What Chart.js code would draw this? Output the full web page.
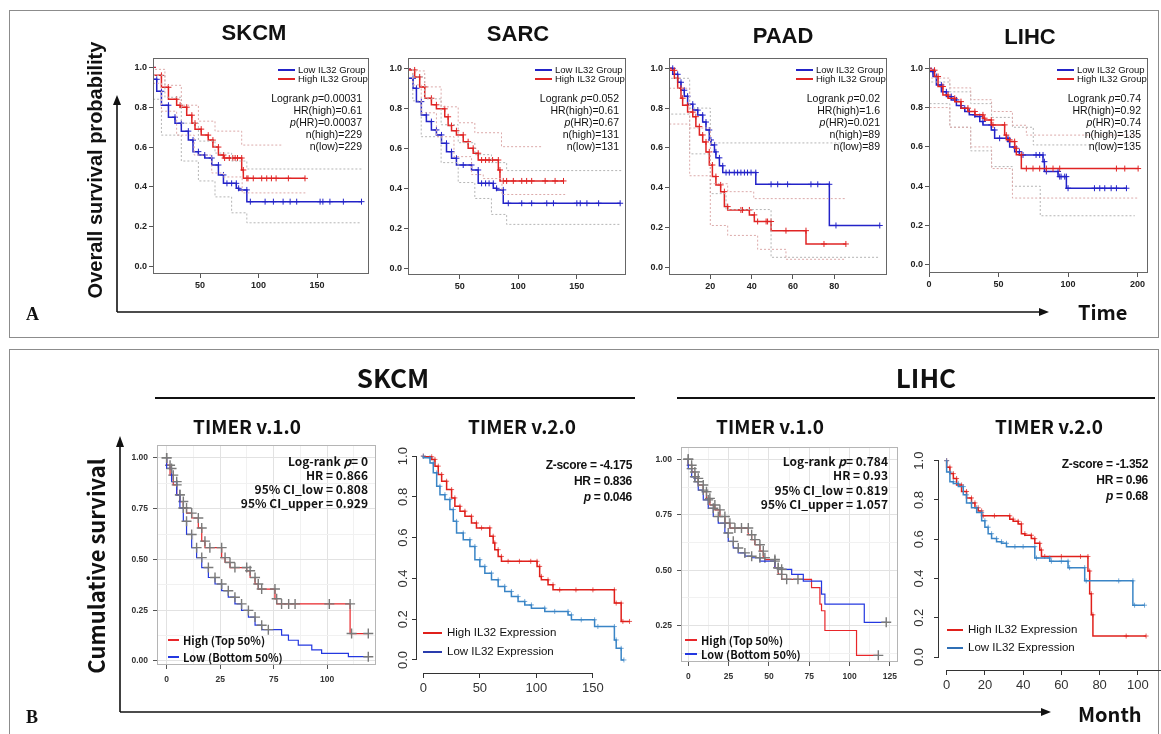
<!DOCTYPE html>
<html>
<head>
<meta charset="utf-8">
<script src="https://cdn.jsdelivr.net/npm/chart.js@4.4.0/dist/chart.umd.min.js"></script>
<style>
html, body { margin: 0; padding: 0; background: #fff; }
body { width: 1161px; height: 734px; overflow: hidden; position: relative; font-family: "Liberation Sans", Arial, sans-serif; }
canvas { position: absolute; z-index: 1; }
.t { position: absolute; white-space: nowrap; line-height: 1; z-index: 3; color: #111; }
.box { position: absolute; border: 1.5px solid #8c8c8c; }
.ln { position: absolute; height: 2px; z-index: 3; }
svg { position: absolute; left: 0; top: 0; z-index: 2; }
</style>
</head>
<body>
<div class="box" style="left:9px;top:10px;width:1148px;height:326px"></div>
<div class="box" style="left:9px;top:349px;width:1148px;height:420px"></div>
<svg width="1161" height="734">
  <g stroke="#111" stroke-width="1.6" fill="none">
    <line x1="117" y1="312" x2="117" y2="104"/>
    <line x1="117" y1="312" x2="1040" y2="312"/>
    <line x1="120" y1="712" x2="120" y2="446"/>
    <line x1="120" y1="712" x2="1042" y2="712"/>
  </g>
  <g stroke="#111" stroke-width="2">
    <line x1="155" y1="398" x2="635" y2="398"/>
    <line x1="677" y1="398" x2="1155" y2="398"/>
  </g>
  <g fill="#111">
    <polygon points="117,95 113,105 121,105"/>
    <polygon points="1049,312 1039,308 1039,316"/>
    <polygon points="120,436 116,447 124,447"/>
    <polygon points="1051,712 1041,708 1041,716"/>
  </g>
</svg>
<script>
// ---- Panel A (GEPIA): time / survival for each group ----
const aSkcmHighT = [9.8, 17, 23, 30, 33, 38.6, 43, 45.7, 51, 57, 61, 65.7, 70, 71, 75, 78, 80, 82, 85.6, 87, 90, 91, 95.5, 102.7, 107, 111, 115, 125.5, 139.7];
const aSkcmHighS = [1.0, 0.96, 0.90, 0.84, 0.81, 0.80, 0.76, 0.72, 0.69, 0.66, 0.635, 0.60, 0.56, 0.545, 0.545, 0.545, 0.545, 0.545, 0.545, 0.485, 0.443, 0.443, 0.443, 0.443, 0.443, 0.443, 0.443, 0.443, 0.443];
const aSkcmLowT = [9.8, 13, 17, 23, 28.6, 34, 40, 44, 48.6, 54, 60, 65.7, 70, 73, 77, 81, 83, 90, 93, 105.6, 112.7, 121, 127, 132.6, 152.6, 155, 161, 172.5, 188];
const aSkcmLowS = [1.0, 0.94, 0.88, 0.81, 0.75, 0.72, 0.68, 0.635, 0.577, 0.56, 0.545, 0.51, 0.46, 0.418, 0.418, 0.418, 0.393, 0.385, 0.326, 0.326, 0.326, 0.326, 0.326, 0.326, 0.326, 0.326, 0.326, 0.326, 0.326];

const aSarcHighT = [5.7, 11.4, 15.7, 20, 25.7, 30, 37.1, 40, 42.9, 47.1, 52.9, 57.1, 61.4, 65.7, 68.6, 72, 75, 78, 82.9, 84.3, 87.1, 90, 95.7, 102.9, 107.1, 111.4, 122.9, 131.4, 138.6];
const aSarcHighS = [1.0, 0.995, 0.96, 0.91, 0.853, 0.82, 0.80, 0.76, 0.716, 0.69, 0.669, 0.635, 0.602, 0.577, 0.543, 0.543, 0.543, 0.543, 0.543, 0.493, 0.438, 0.438, 0.438, 0.438, 0.438, 0.438, 0.438, 0.438, 0.438];
const aSarcLowT = [5.7, 10, 12.9, 17.1, 21.4, 25.7, 30, 34.3, 38.6, 42.9, 47.1, 52.9, 60, 65.7, 68.6, 72, 75, 78.6, 81.4, 87.1, 91.4, 102.9, 111.4, 124.3, 130, 150, 152.9, 158.6, 168.6, 187];
const aSarcLowS = [1.0, 0.953, 0.903, 0.836, 0.769, 0.736, 0.694, 0.669, 0.627, 0.585, 0.552, 0.518, 0.518, 0.493, 0.426, 0.426, 0.426, 0.426, 0.401, 0.393, 0.326, 0.326, 0.326, 0.326, 0.326, 0.326, 0.326, 0.326, 0.326, 0.326];

const aPaadHighT = [0, 2.6, 4.2, 5.8, 6.6, 9, 11.5, 13, 14.7, 16.3, 17.9, 19.5, 21, 22.7, 25, 26.8, 28.4, 34.8, 35.6, 38.9, 41.3, 42.9, 47, 47.7, 49.4, 56.6, 66.3, 75, 85.6];
const aPaadHighS = [1.0, 0.99, 0.95, 0.90, 0.85, 0.815, 0.78, 0.757, 0.707, 0.665, 0.63, 0.58, 0.514, 0.456, 0.414, 0.38, 0.305, 0.288, 0.288, 0.288, 0.263, 0.23, 0.23, 0.23, 0.23, 0.184, 0.184, 0.117, 0.117];
const aPaadLowT = [0, 1.8, 4.2, 5.8, 7.4, 9, 11.5, 13.9, 16.3, 17.9, 19.5, 20.3, 22, 22.7, 24.4, 26, 27.6, 29.2, 31.6, 33.2, 34.8, 36.5, 38, 39.7, 42, 49.4, 52.6, 57.4, 68.7, 72, 77.6, 80.8, 102];
const aPaadLowS = [1.0, 1.0, 0.97, 0.93, 0.89, 0.86, 0.82, 0.79, 0.765, 0.73, 0.69, 0.64, 0.615, 0.58, 0.55, 0.51, 0.476, 0.476, 0.476, 0.476, 0.476, 0.476, 0.476, 0.476, 0.476, 0.417, 0.417, 0.417, 0.417, 0.417, 0.417, 0.21, 0.21];

const aLihcHighT = [0, 4, 6.5, 10, 13.7, 18.5, 23, 28, 33, 38.8, 40, 44.8, 46, 54.4, 55.6, 58, 61.6, 62.8, 66.4, 70, 74.8, 79.6, 84.4, 89.2, 94, 134.8, 140.8, 150.4];
const aLihcHighS = [1.0, 0.99, 0.958, 0.907, 0.864, 0.847, 0.83, 0.797, 0.78, 0.763, 0.746, 0.737, 0.712, 0.712, 0.66, 0.636, 0.627, 0.593, 0.56, 0.49, 0.49, 0.49, 0.49, 0.49, 0.49, 0.49, 0.49, 0.49];
const aLihcLowT = [0, 2.9, 5.3, 8.9, 12.5, 16, 19.7, 23, 25.7, 29, 33, 36.5, 38.8, 44.8, 47.2, 50.8, 56.8, 58, 61.6, 65, 67.6, 77, 79.6, 82, 83, 84.4, 92.8, 94, 95, 97.6, 98.8, 100, 119, 122.8, 126.4, 131, 134.8, 142];
const aLihcLowS = [1.0, 0.983, 0.958, 0.915, 0.88, 0.856, 0.839, 0.81, 0.797, 0.78, 0.763, 0.754, 0.729, 0.712, 0.686, 0.644, 0.644, 0.627, 0.60, 0.576, 0.559, 0.559, 0.559, 0.559, 0.525, 0.475, 0.475, 0.449, 0.449, 0.449, 0.449, 0.39, 0.39, 0.39, 0.39, 0.39, 0.39, 0.39];

// dotted 95% bands, [time, survival]
const aSkcmHighUp = [[9.8, 1], [20, 0.99], [34, 0.91], [48.6, 0.81], [62.8, 0.73], [74, 0.68], [85.6, 0.68], [90, 0.61], [121, 0.61]];
const aSkcmHighLo = [[9.8, 1], [17, 0.92], [30, 0.78], [45, 0.66], [60, 0.56], [70, 0.47], [86, 0.45], [90, 0.37], [140, 0.37]];
const aSkcmLowUp = [[9.8, 1], [20, 0.96], [34, 0.85], [48.6, 0.72], [62.8, 0.63], [77, 0.57], [90, 0.53], [93, 0.49], [188, 0.49]];
const aSkcmLowLo = [[9.8, 1], [17, 0.84], [34, 0.66], [48.6, 0.53], [62.8, 0.43], [77, 0.35], [90, 0.27], [93, 0.22], [188, 0.22]];
const aPaadLowUp = [[0, 1], [10, 0.95], [20, 0.80], [27.6, 0.625], [85, 0.625]];
const aPaadLowLo = [[0, 1], [10, 0.77], [20, 0.57], [27.6, 0.37], [49.4, 0.29], [80.8, 0.05], [102, 0.05]];
const aPaadHighUp = [[0, 1], [10, 0.90], [20, 0.70], [28.4, 0.42], [41, 0.38], [56.6, 0.345], [85.6, 0.345]];
const aPaadHighLo = [[0, 1], [10, 0.72], [20, 0.46], [28.4, 0.21], [42.9, 0.16], [56.6, 0.09], [75, 0.04], [85.6, 0.04]];
const aLihcHighUp = [[0, 1], [15, 0.95], [30, 0.9], [45, 0.84], [60, 0.78], [70, 0.71], [85, 0.66], [150, 0.66]];
const aLihcHighLo = [[0, 1], [15, 0.80], [30, 0.70], [45, 0.60], [60, 0.49], [70, 0.34], [150, 0.34]];
const aLihcLowUp = [[0, 1], [15, 0.93], [30, 0.88], [45, 0.82], [60, 0.75], [75, 0.70], [100, 0.61], [148, 0.61]];
const aLihcLowLo = [[0, 1], [15, 0.82], [30, 0.70], [45, 0.58], [60, 0.50], [80, 0.40], [100, 0.25], [148, 0.25]];

// ---- Panel B (TIMER) ----
const b1SkcmHighT = [0, 1.6, 3.1, 4.7, 6.2, 7.8, 9.3, 11.7, 14.8, 16.4, 17.9, 20.2, 25.7, 27.3, 29.6, 31.9, 37.4, 39, 41.3, 42.8, 44.4, 50.6, 51.4, 53.7, 57, 60, 76, 85.7, 86.4, 94.2];
const b1SkcmHighS = [1.0, 0.964, 0.915, 0.867, 0.818, 0.785, 0.753, 0.728, 0.704, 0.655, 0.59, 0.558, 0.558, 0.509, 0.485, 0.46, 0.46, 0.444, 0.411, 0.379, 0.354, 0.354, 0.306, 0.281, 0.281, 0.281, 0.281, 0.281, 0.135, 0.135];
const b1SkcmLowT = [0, 2.3, 4.7, 6.2, 7.8, 9.3, 11.7, 14, 16.4, 19.5, 22.6, 25.7, 28.8, 31.9, 35, 38.2, 41.3, 44.4, 47.5, 53.7, 56.9, 61.5, 67.8, 72.4, 84.9, 91.1, 94.2];
const b1SkcmLowS = [1.0, 0.948, 0.883, 0.818, 0.753, 0.688, 0.623, 0.558, 0.509, 0.46, 0.411, 0.379, 0.346, 0.314, 0.281, 0.249, 0.216, 0.176, 0.154, 0.154, 0.127, 0.102, 0.078, 0.054, 0.037, 0.021, 0.021];

const b2SkcmHighT = [0, 7.4, 10.3, 13.2, 16.2, 20.6, 25, 27.9, 32.4, 36.8, 42.6, 47, 51.5, 58.8, 61.8, 63.2, 66.2, 69.1, 75, 85, 95, 100.6, 102.9, 104.4, 110.3, 114.7, 120.6, 135, 150, 169, 170.6, 175, 176.5, 182.4];
const b2SkcmHighS = [1.0, 0.997, 0.984, 0.951, 0.91, 0.877, 0.836, 0.795, 0.754, 0.73, 0.705, 0.672, 0.648, 0.648, 0.607, 0.574, 0.541, 0.508, 0.484, 0.484, 0.484, 0.484, 0.459, 0.41, 0.393, 0.369, 0.344, 0.344, 0.344, 0.344, 0.279, 0.279, 0.189, 0.189];
const b2SkcmLowT = [0, 5.9, 8.8, 11.8, 14.7, 19.1, 23.5, 26.5, 29.4, 35.3, 41.2, 45.6, 50, 54.4, 60.3, 66.2, 72, 77.9, 83.8, 89.7, 95.6, 107.4, 116.2, 128, 131, 139.7, 151.5, 154.4, 169, 170.6, 175, 177.4];
const b2SkcmLowS = [1.0, 0.992, 0.967, 0.918, 0.852, 0.811, 0.787, 0.738, 0.68, 0.623, 0.59, 0.557, 0.492, 0.459, 0.426, 0.393, 0.361, 0.336, 0.311, 0.287, 0.27, 0.254, 0.238, 0.238, 0.221, 0.197, 0.197, 0.164, 0.164, 0.098, 0.057, 0.0];

const b1LihcHighT = [0, 2.1, 4.1, 6.2, 9.3, 11.3, 13.4, 16.5, 19.6, 22.7, 25.8, 28.9, 33, 37.2, 39.3, 41.3, 44.4, 46.5, 47.5, 53.7, 55.8, 57.9, 61, 68, 76.4, 78.5, 81.6, 82.6, 84.7, 85.7, 104.3, 105.4, 117.8];
const b1LihcHighS = [1.0, 0.973, 0.943, 0.914, 0.884, 0.854, 0.824, 0.794, 0.772, 0.742, 0.712, 0.69, 0.69, 0.69, 0.66, 0.638, 0.615, 0.586, 0.556, 0.548, 0.511, 0.481, 0.459, 0.459, 0.459, 0.421, 0.421, 0.347, 0.317, 0.228, 0.228, 0.116, 0.116];
const b1LihcLowT = [0, 2.1, 4.1, 6.2, 9.3, 12.4, 15.5, 18.6, 22.7, 24.8, 27.9, 31, 35.1, 39.3, 44.4, 53.7, 55.8, 57.9, 64.1, 66.1, 71.3, 72.3, 82.6, 84.7, 85.7, 92, 109.1, 110.1, 113, 117, 122.7];
const b1LihcLowS = [1.0, 0.958, 0.921, 0.899, 0.861, 0.817, 0.779, 0.742, 0.712, 0.668, 0.63, 0.60, 0.578, 0.563, 0.556, 0.541, 0.511, 0.504, 0.504, 0.481, 0.481, 0.451, 0.451, 0.392, 0.347, 0.347, 0.347, 0.265, 0.265, 0.265, 0.265];

const b2LihcHighT = [0, 1.7, 3.5, 5.2, 7.8, 10.4, 13, 14.8, 16.5, 18.3, 19.1, 25, 33, 34.8, 37.4, 39.1, 40.9, 44.3, 46.1, 48.7, 49.6, 51.3, 60, 70, 73.9, 74.8, 75.7, 76.5, 93.9, 104.3];
const b2LihcHighS = [1.0, 0.967, 0.934, 0.909, 0.876, 0.843, 0.81, 0.785, 0.76, 0.744, 0.719, 0.719, 0.719, 0.702, 0.691, 0.678, 0.628, 0.62, 0.603, 0.579, 0.545, 0.512, 0.512, 0.512, 0.512, 0.438, 0.322, 0.215, 0.107, 0.107];
const b2LihcLowT = [0, 1.7, 3.5, 6.1, 8.7, 10.4, 13, 15.7, 18.3, 20, 21.7, 23.5, 26.1, 28.7, 31.3, 35.7, 40, 46.1, 47, 53.9, 54.8, 60, 63.5, 64.3, 72.2, 73, 90, 97.4, 98.3, 103.5];
const b2LihcLowS = [1.0, 0.942, 0.893, 0.884, 0.868, 0.826, 0.785, 0.76, 0.736, 0.694, 0.661, 0.628, 0.603, 0.587, 0.579, 0.562, 0.562, 0.562, 0.504, 0.504, 0.488, 0.488, 0.488, 0.455, 0.455, 0.388, 0.388, 0.388, 0.264, 0.264];

// tick values and labels
const aYTicks = [0, 0.2, 0.4, 0.6, 0.8, 1.0];
const aYLabels = ['0.0', '0.2', '0.4', '0.6', '0.8', '1.0'];
const aSkcmXTicks = [50, 100, 150];
const aSkcmXLabels = ['50', '100', '150'];
const aPaadXTicks = [20, 40, 60, 80];
const aPaadXLabels = ['20', '40', '60', '80'];
const aLihcXTicks = [0, 50, 100, 150];
const aLihcXLabels = ['0', '50', '100', '200'];
const b1SkcmXTicks = [0, 25, 50, 75];
const b1SkcmXLabels = ['0', '25', '75', '100'];
const b1SkcmYTicks = [0, 0.25, 0.5, 0.75, 1];
const b1SkcmYLabels = ['0.00', '0.25', '0.50', '0.75', '1.00'];
const b1LihcXTicks = [0, 25, 50, 75, 100, 125];
const b1LihcXLabels = ['0', '25', '50', '75', '100', '125'];
const b1LihcYTicks = [0.25, 0.5, 0.75, 1];
const b1LihcYLabels = ['0.25', '0.50', '0.75', '1.00'];
const b2YTicks = [0, 0.2, 0.4, 0.6, 0.8, 1.0];
const b2YLabels = ['0.0', '0.2', '0.4', '0.6', '0.8', '1.0'];
const b2SkcmXTicks = [0, 50, 100, 150];
const b2SkcmXLabels = ['0', '50', '100', '150'];
const b2LihcXTicks = [0, 20, 40, 60, 80, 100, 120];
const b2LihcXLabels = ['0', '20', '40', '60', '80', '100', '120'];

const FONT = '"Liberation Sans", Arial, sans-serif';
const KR = '"Noto Sans CJK KR", "Noto Sans", sans-serif';
const RED = '#e02424', BLUE = '#2323c8';
const T2RED = '#e0201b', T2BLUE = '#3a85c6';

Chart.defaults.font.family = FONT;

// box around the plot area
const framePlugin = {
    id: 'frame',
    afterDatasetsDraw(chart, args, opts) {
        if (!opts || !opts.color) return;
        const a = chart.chartArea, c = chart.ctx;
        c.save();
        c.strokeStyle = opts.color;
        c.lineWidth = 1;
        c.strokeRect(Math.round(a.left) + 0.5, Math.round(a.top) + 0.5, Math.round(a.right - a.left) - 1, Math.round(a.bottom - a.top) - 1);
        c.restore();
    }
};
// R style axis lines: only from first to last tick
const rAxisPlugin = {
    id: 'rAxis',
    afterDraw(chart, args, opts) {
        if (!opts || !opts.color) return;
        const c = chart.ctx, x = chart.scales.x, y = chart.scales.y;
        const xt = x.ticks, yt = y.ticks;
        const yb = Math.round(x.top) + 0.5, xl = Math.round(y.right) - 0.5;
        c.save();
        c.strokeStyle = opts.color;
        c.lineWidth = 1;
        c.beginPath();
        c.moveTo(x.getPixelForValue(xt[0].value), yb);
        c.lineTo(x.getPixelForValue(xt[xt.length - 1].value), yb);
        c.moveTo(xl, y.getPixelForValue(yt[0].value));
        c.lineTo(xl, y.getPixelForValue(yt[yt.length - 1].value));
        c.stroke();
        c.restore();
    }
};
Chart.register(framePlugin, rAxisPlugin);

function km(t, s, color, width, cross) {
    return {
        data: t.map((x, i) => ({ x: x, y: s[i] })),
        showLine: true,
        stepped: 'after',
        borderColor: color,
        borderWidth: width,
        pointStyle: 'cross',
        pointRadius: cross.r,
        pointBorderColor: cross.c,
        pointBackgroundColor: cross.c,
        pointBorderWidth: cross.w,
        pointHoverRadius: 0
    };
}

function band(pairs, color) {
    return {
        data: pairs.map(p => ({ x: p[0], y: p[1] })),
        showLine: true,
        stepped: 'after',
        borderColor: color,
        borderWidth: 1,
        borderDash: [2, 2],
        pointRadius: 0
    };
}

function fixTicks(vals) {
    return s => { s.ticks = vals.map(v => ({ value: v })); };
}

function scaleA(min, max, vals, labels) {
    return {
        type: 'linear', min: min, max: max,
        afterBuildTicks: fixTicks(vals),
        grid: { drawOnChartArea: false, drawTicks: true, tickLength: 4, color: '#555' },
        border: { display: false },
        ticks: { autoSkip: false, maxRotation: 0, minRotation: 0, padding: 2, color: '#222',
            font: { family: FONT, size: 9, weight: 'bold' }, callback: (v, i) => labels[i] }
    };
}

function scaleT1(min, max, majors, labels, pad) {
    const step = majors[1] - majors[0];
    const vals = [];
    if (majors[0] - step / 2 > min) vals.push(majors[0] - step / 2);
    majors.forEach(m => { vals.push(m); if (m + step / 2 < max) vals.push(m + step / 2); });
    const isMajor = v => majors.indexOf(v) >= 0;
    return {
        type: 'linear', min: min, max: max,
        afterBuildTicks: fixTicks(vals),
        grid: { drawOnChartArea: true, drawTicks: true, tickLength: 4,
            color: ctx => isMajor(ctx.tick.value) ? '#e2e2e2' : '#f1f1f1',
            tickColor: ctx => isMajor(ctx.tick.value) ? '#555' : 'rgba(0,0,0,0)' },
        border: { display: false },
        ticks: { autoSkip: false, maxRotation: 0, minRotation: 0, padding: pad, color: '#333',
            font: { family: FONT, size: 8.5, weight: 'bold' },
            callback: v => { const k = majors.indexOf(v); return k >= 0 ? labels[k] : ''; } }
    };
}

function scaleT2(min, max, vals, labels, vertical, pad) {
    return {
        type: 'linear', min: min, max: max,
        afterBuildTicks: fixTicks(vals),
        grid: { drawOnChartArea: false, drawTicks: true, tickLength: 5, color: '#333' },
        border: { display: false },
        ticks: { autoSkip: false, padding: pad, color: '#333',
            minRotation: vertical ? 90 : 0, maxRotation: vertical ? 90 : 0,
            crossAlign: vertical ? 'center' : 'near',
            font: { family: FONT, size: 13 }, callback: (v, i) => labels[i] }
    };
}

function panel(area, yW, xH, xs, ys, datasets, frame, rAxis) {
    const padT = 8, padR = 16;
    const cv = document.createElement('canvas');
    const w = Math.round(area.r - area.l + yW + padR);
    const h = Math.round(area.b - area.t + xH + padT);
    cv.width = w;
    cv.height = h;
    cv.style.left = (area.l - yW) + 'px';
    cv.style.top = (area.t - padT) + 'px';
    cv.style.width = w + 'px';
    cv.style.height = h + 'px';
    document.body.appendChild(cv);
    xs.afterFit = s => { s.height = xH; };
    ys.afterFit = s => { s.width = yW; };
    new Chart(cv, {
        type: 'scatter',
        data: { datasets: datasets },
        options: {
            responsive: false, animation: false, events: [], devicePixelRatio: 1,
            layout: { autoPadding: false, padding: { top: padT, right: padR, left: 0, bottom: 0 } },
            plugins: { legend: { display: false }, tooltip: { enabled: false }, frame: frame, rAxis: rAxis || false },
            scales: { x: xs, y: ys }
        }
    });
}

function txt(x, y, html, css, anchor) {
    const d = document.createElement('div');
    d.className = 't';
    d.innerHTML = html;
    d.style.cssText += css;
    d.style.left = x + 'px';
    d.style.top = y + 'px';
    const tr = { r: 'translate(-100%,-50%)', c: 'translate(-50%,-50%)', l: 'translate(0,-50%)', v: 'translate(-50%,-50%) rotate(-90deg)' };
    d.style.transform = tr[anchor || 'l'];
    document.body.appendChild(d);
}

function lineKey(x1, x2, y, color) {
    const d = document.createElement('div');
    d.className = 'ln';
    d.style.left = x1 + 'px';
    d.style.top = (y - 1) + 'px';
    d.style.width = (x2 - x1) + 'px';
    d.style.background = color;
    document.body.appendChild(d);
}

// ---------- A ----------
const aCrossR = { r: 3, c: RED, w: 1 }, aCrossB = { r: 3, c: BLUE, w: 1 };
const greyBand = '#b5b5b5', pinkBand = '#dcaaaa';

function gepiaPanel(area, xs, high, low, bands, stats) {
    panel(area, 26, 24, xs, scaleA(area.ymin, area.ymax, aYTicks, aYLabels), [
        band(bands[0], pinkBand), band(bands[1], pinkBand), band(bands[2], greyBand), band(bands[3], greyBand),
        km(high[0], high[1], RED, 1.5, aCrossR),
        km(low[0], low[1], BLUE, 1.5, aCrossB)
    ], { color: '#666' });
    const r = area.r, t = area.t;
    lineKey(r - 91, r - 74, t + 12, BLUE);
    lineKey(r - 91, r - 74, t + 21, RED);
    const f = 'font-size:9.5px;font-family:' + FONT + ';';
    txt(r - 71, t + 12, 'Low IL32 Group', f);
    txt(r - 71, t + 21, 'High IL32 Group', f);
    stats.forEach((s, i) => txt(r - 7, t + 40 + 12 * i, s, 'font-size:10.5px;font-family:' + FONT + ';', 'r'));
}

gepiaPanel({ l: 153, t: 58, r: 369, b: 274, ymin: -0.037, ymax: 1.047 },
    scaleA(9.8, 194.4, aSkcmXTicks, aSkcmXLabels),
    [aSkcmHighT, aSkcmHighS], [aSkcmLowT, aSkcmLowS],
    [aSkcmHighUp, aSkcmHighLo, aSkcmLowUp, aSkcmLowLo],
    ['Logrank <i>p</i>=0.00031', 'HR(high)=0.61', '<i>p</i>(HR)=0.00037', 'n(high)=229', 'n(low)=229']);

gepiaPanel({ l: 408, t: 58, r: 626, b: 275, ymin: -0.034, ymax: 1.055 },
    scaleA(5.7, 192, aSkcmXTicks, aSkcmXLabels),
    [aSarcHighT, aSarcHighS], [aSarcLowT, aSarcLowS],
    [aSkcmHighUp, aSkcmHighLo, aSkcmLowUp, aSkcmLowLo],
    ['Logrank <i>p</i>=0.052', 'HR(high)=0.61', '<i>p</i>(HR)=0.67', 'n(high)=131', 'n(low)=131']);

gepiaPanel({ l: 669, t: 58, r: 887, b: 275, ymin: -0.039, ymax: 1.052 },
    scaleA(0, 105.5, aPaadXTicks, aPaadXLabels),
    [aPaadHighT, aPaadHighS], [aPaadLowT, aPaadLowS],
    [aPaadHighUp, aPaadHighLo, aPaadLowUp, aPaadLowLo],
    ['Logrank <i>p</i>=0.02', 'HR(high)=1.6', '<i>p</i>(HR)=0.021', 'n(high)=89', 'n(low)=89']);

gepiaPanel({ l: 929, t: 58, r: 1148, b: 273, ymin: -0.041, ymax: 1.052 },
    scaleA(0, 157.5, aLihcXTicks, aLihcXLabels),
    [aLihcHighT, aLihcHighS], [aLihcLowT, aLihcLowS],
    [aLihcHighUp, aLihcHighLo, aLihcLowUp, aLihcLowLo],
    ['Logrank <i>p</i>=0.74', 'HR(high)=0.92', '<i>p</i>(HR)=0.74', 'n(high)=135', 'n(low)=135']);

// ---------- B ----------
const grey = '#7a7a7a';
function greyCross(limit) {
    return { r: ctx => (ctx.raw && (ctx.raw.x <= limit || ctx.dataIndex === ctx.dataset.data.length - 1)) ? 5 : 0, c: grey, w: 1.4 };
}

panel({ l: 157, t: 443, r: 376, b: 665 }, 30, 24,
    scaleT1(-4.5, 97.8, b1SkcmXTicks, b1SkcmXLabels, 6),
    scaleT1(-0.02, 1.063, b1SkcmYTicks, b1SkcmYLabels, 5), [
        km(b1SkcmLowT, b1SkcmLowS, '#2438e0', 1.2, greyCross(48)),
        km(b1SkcmHighT, b1SkcmHighS, '#e8262a', 1.2, greyCross(200))
    ], { color: '#b5b5b5' });

panel({ l: 417, t: 448, r: 637, b: 673 }, 30, 26,
    scaleT2(-5.6, 189, b2SkcmXTicks, b2SkcmXLabels, false, 3),
    scaleT2(-0.064, 1.04, b2YTicks, b2YLabels, true, 0), [
        km(b2SkcmLowT, b2SkcmLowS, T2BLUE, 1.5, { r: 2.5, c: 'rgba(58,133,198,0.7)', w: 1 }),
        km(b2SkcmHighT, b2SkcmHighS, T2RED, 1.5, { r: 2.5, c: 'rgba(224,32,27,0.7)', w: 1 })
    ], false, { color: '#333' });

panel({ l: 681, t: 445, r: 898, b: 662 }, 30, 26,
    scaleT1(-4.5, 130, b1LihcXTicks, b1LihcXLabels, 6),
    scaleT1(0.086, 1.055, b1LihcYTicks, b1LihcYLabels, 5), [
        km(b1LihcLowT, b1LihcLowS, '#2438e0', 1.2, greyCross(58)),
        km(b1LihcHighT, b1LihcHighS, '#e8262a', 1.2, greyCross(72))
    ], { color: '#b5b5b5' });

panel({ l: 939, t: 447, r: 1178, b: 670 }, 36, 26,
    scaleT2(-4, 121, b2LihcXTicks, b2LihcXLabels, false, 3),
    scaleT2(-0.066, 1.04, b2YTicks, b2YLabels, true, 6), [
        km(b2LihcLowT, b2LihcLowS, T2BLUE, 1.5, { r: 2.5, c: 'rgba(58,133,198,0.7)', w: 1 }),
        km(b2LihcHighT, b2LihcHighS, T2RED, 1.5, { r: 2.5, c: 'rgba(224,32,27,0.7)', w: 1 })
    ], false, { color: '#333' });

// ---------- texts ----------
const hA = 'font-family:' + FONT + ';font-weight:bold;';
const hB = 'font-family:' + KR + ';font-weight:bold;';
txt(254, 33, 'SKCM', hA + 'font-size:22px;', 'c');
txt(518, 34, 'SARC', hA + 'font-size:22px;', 'c');
txt(783, 36, 'PAAD', hA + 'font-size:22px;', 'c');
txt(1030, 37, 'LIHC', hA + 'font-size:22px;', 'c');
txt(95, 170, 'Overall survival probability', hA + 'font-size:20px;', 'v');
txt(1078, 312, 'Time', hB + 'font-size:20px;');
txt(26, 314, 'A', 'font-family:"Liberation Serif",serif;font-weight:bold;font-size:18px;');

txt(393, 377, 'SKCM', hB + 'font-size:26px;', 'c');
txt(926, 377, 'LIHC', hB + 'font-size:26px;', 'c');
txt(247, 425, 'TIMER v.1.0', hB + 'font-size:19px;', 'c');
txt(522, 425, 'TIMER v.2.0', hB + 'font-size:19px;', 'c');
txt(770, 425, 'TIMER v.1.0', hB + 'font-size:19px;', 'c');
txt(1049, 425, 'TIMER v.2.0', hB + 'font-size:19px;', 'c');
txt(95, 566, 'Cumulative survival', hB + 'font-size:22px;', 'v');
txt(1078, 714, 'Month', hB + 'font-size:20px;');
txt(26, 717, 'B', 'font-family:"Liberation Serif",serif;font-weight:bold;font-size:18px;');

// TIMER 1.0 annotations
const s1 = hB + 'font-size:12px;';
['Log-rank <i>p</i>= 0', 'HR = 0.866', '95% CI_low = 0.808', '95% CI_upper = 0.929']
    .forEach((s, i) => txt(368, 461 + 14 * i, s, s1, 'r'));
['Log-rank <i>p</i>= 0.784', 'HR = 0.93', '95% CI_low = 0.819', '95% CI_upper = 1.057']
    .forEach((s, i) => txt(888, 461 + 14.3 * i, s, s1, 'r'));
const l1 = hB + 'font-size:11px;';
lineKey(168, 179, 640, '#e8262a'); txt(183, 640, 'High (Top 50%)', l1);
lineKey(168, 179, 657, '#2438e0'); txt(183, 657, 'Low (Bottom 50%)', l1);
lineKey(685, 697, 640, '#e8262a'); txt(701, 640, 'High (Top 50%)', l1);
lineKey(685, 697, 654, '#2438e0'); txt(701, 654, 'Low (Bottom 50%)', l1);

// TIMER 2.0 annotations
const s2 = hA + 'font-size:12px;letter-spacing:-0.3px;';
['Z-score = -4.175', 'HR = 0.836', '<i>p</i> = 0.046'].forEach((s, i) => txt(632, 465 + 16 * i, s, s2, 'r'));
['Z-score = -1.352', 'HR = 0.96', '<i>p</i> = 0.68'].forEach((s, i) => txt(1148, 464 + 16 * i, s, s2, 'r'));
const l2 = 'font-family:' + FONT + ';font-size:11.5px;';
lineKey(423, 442, 633, T2RED); txt(447, 633, 'High IL32 Expression', l2);
lineKey(423, 442, 652, '#2a3cad'); txt(447, 652, 'Low IL32 Expression', l2);
lineKey(947, 963, 630, T2RED); txt(968, 630, 'High IL32 Expression', l2);
lineKey(947, 963, 648, '#2f6fb5'); txt(968, 648, 'Low IL32 Expression', l2);
</script>
</body>
</html>
